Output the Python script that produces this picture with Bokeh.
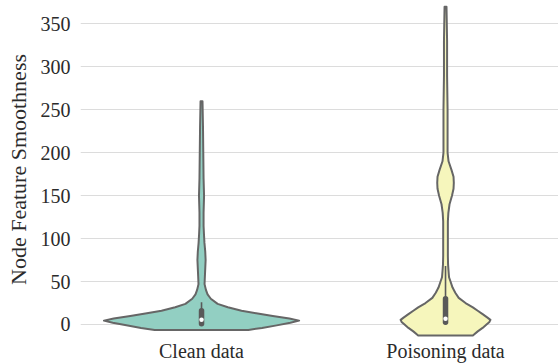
import numpy as np
from bokeh.plotting import figure
from bokeh.models import Range1d, FixedTicker
from bokeh.embed import file_html
from bokeh.resources import INLINE

# ---------------- data ----------------
categories = ["Clean data", "Poisoning data"]
y_ticks = [0, 50, 100, 150, 200, 250, 300, 350]

# estimated kernel-density profile (relative density, clean max = 1)
clean_y = [-6.3, -4, -1, 2, 4.5, 7, 10, 13, 16, 20, 24, 30, 35, 40, 47, 55, 65,
           75, 85, 95, 105, 115, 130, 150, 170, 200, 230, 260]
clean_density = [0.48, 0.62, 0.77, 0.91, 1.00, 0.90, 0.73, 0.56, 0.41, 0.27,
                 0.165, 0.095, 0.062, 0.046, 0.031, 0.034, 0.038, 0.042, 0.038,
                 0.030, 0.025, 0.021, 0.021, 0.026, 0.021, 0.018, 0.015, 0.010]

poison_y = [-12.7, -8, -4, 0, 3, 5.4, 8, 12, 16, 20, 25, 31, 37, 43, 50, 55, 62,
            70, 80, 95, 110, 120, 130, 140, 150, 158, 165, 172, 180, 190, 200,
            220, 250, 290, 330, 370]
poison_density = [0.28, 0.33, 0.38, 0.42, 0.45, 0.46, 0.43, 0.38, 0.33, 0.28,
                  0.205, 0.135, 0.10, 0.072, 0.051, 0.036, 0.031, 0.026, 0.024,
                  0.024, 0.024, 0.024, 0.029, 0.041, 0.066, 0.082, 0.085, 0.082,
                  0.061, 0.031, 0.021, 0.021, 0.021, 0.016, 0.016, 0.010]

# inner box-plot statistics
whisker_low = [0.0, 0.0]
q1 = [1.0, 2.7]
median = [5.4, 6.6]
q3 = [16.0, 30.0]
whisker_high = [26.0, 68.0]

fill_colors = ["#92cfc2", "#f6f6bc"]
line_color = "#666666"
box_color = "#595959"
font = "Liberation Serif"
text_color = "#2b2b2b"

# ---------------- figure ----------------
p = figure(width=558, height=364, output_backend="svg", toolbar_location=None,
           x_range=Range1d(-0.496, 1.463), y_range=Range1d(-16.3, 377.2),
           min_border_left=80, min_border_right=0, min_border_top=0,
           min_border_bottom=26)
p.outline_line_color = None
p.background_fill_color = "white"
p.border_fill_color = "white"

half_max = 0.40  # half-width (x units) of the widest violin
profiles = [(clean_y, clean_density), (poison_y, poison_density)]
for i, (ys, dens) in enumerate(profiles):
    ys = np.asarray(ys, float)
    hw = np.asarray(dens, float) * half_max
    xs = np.concatenate([i - hw, (i + hw)[::-1]])
    yy = np.concatenate([ys, ys[::-1]])
    p.patch(xs, yy, fill_color=fill_colors[i], line_color=line_color,
            line_width=2, line_join="round")

pos = list(range(len(categories)))
p.segment(x0=pos, y0=whisker_low, x1=pos, y1=whisker_high,
          line_color=box_color, line_width=1.6)
p.segment(x0=pos, y0=q1, x1=pos, y1=q3, line_color=box_color,
          line_width=5.5, line_cap="round")
p.scatter(x=pos, y=median, size=4.5, fill_color="white", line_color=None)

# axes
p.xgrid.visible = False
p.ygrid.grid_line_color = "#dcdcdc"
p.ygrid.grid_line_width = 1

p.yaxis.ticker = FixedTicker(ticks=y_ticks)
p.xaxis.ticker = FixedTicker(ticks=pos)
p.xaxis.major_label_overrides = {i: c for i, c in enumerate(categories)}

for ax in (p.xaxis[0], p.yaxis[0]):
    ax.axis_line_color = None
    ax.major_tick_line_color = None
    ax.minor_tick_line_color = None
    ax.major_tick_in = 0
    ax.major_tick_out = 0
    ax.major_label_text_font = font
    ax.major_label_text_font_size = "20px"
    ax.major_label_text_color = text_color

p.yaxis.major_label_standoff = 10
p.xaxis.major_label_standoff = 1
p.yaxis.axis_label = "Node Feature Smoothness"
p.yaxis.axis_label_text_font = font
p.yaxis.axis_label_text_font_size = "22px"
p.yaxis.axis_label_text_font_style = "normal"
p.yaxis.axis_label_text_color = text_color
p.yaxis.axis_label_standoff = 7

open("out.html", "w").write(file_html(p, INLINE))
